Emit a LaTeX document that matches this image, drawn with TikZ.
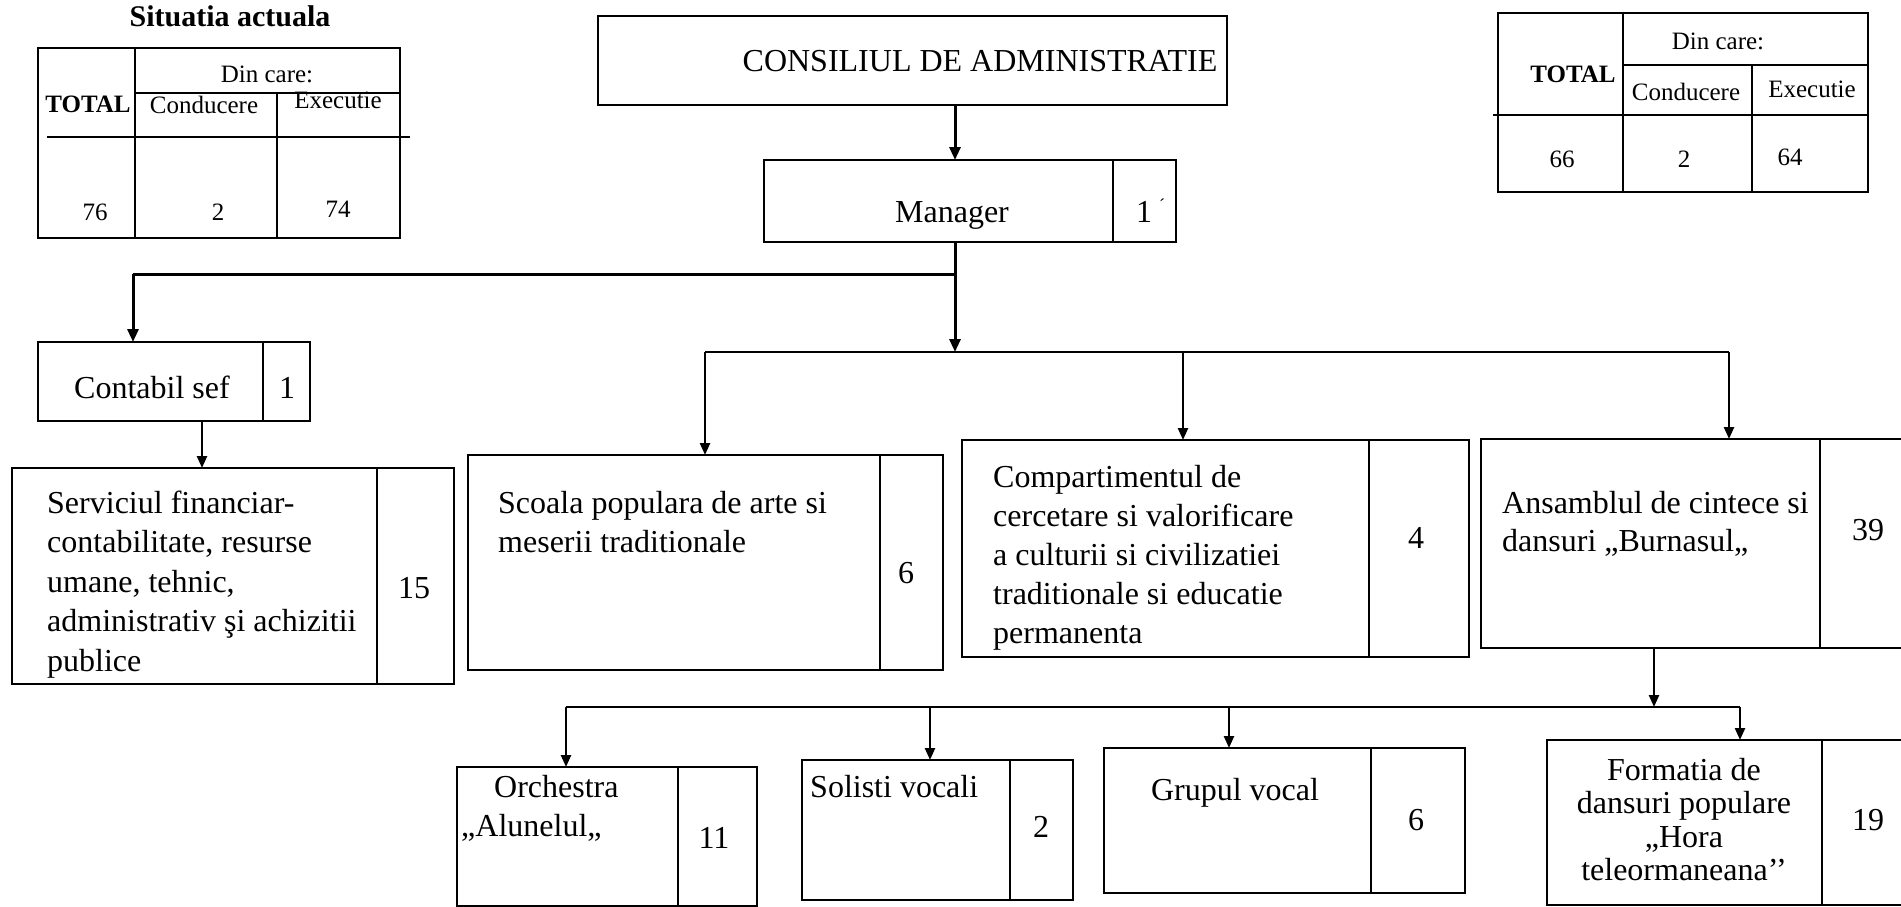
\documentclass[tikz,border=0pt]{standalone}
\usepackage{fontspec}
\setmainfont{Liberation Serif}
\usetikzlibrary{arrows.meta}
\begin{document}
\begin{tikzpicture}[x=1pt,y=-1pt,
  cell/.style={draw,line width=2.4pt,inner sep=0pt,outer sep=0pt,anchor=north west},
  tl/.style={line width=2.4pt},
  thk/.style={line width=3pt},
  arr/.style={line width=2.4pt,-{Triangle[length=12pt,width=10pt]}},
  arrb/.style={line width=3pt,-{Triangle[length=13pt,width=11pt]}},
  txt/.style={inner sep=0pt,anchor=base,font=\fontsize{32}{38}\selectfont},
  txtl/.style={txt,anchor=base west},
  tb/.style={inner sep=0pt,anchor=base,font=\fontsize{25}{30}\selectfont},
  tbb/.style={tb,font=\fontsize{25}{30}\selectfont\bfseries},
]
\useasboundingbox (0,0) rectangle (1901,907);
\clip (0,0) rectangle (1901,907);

% ---------- left table ----------
\node[inner sep=0pt,anchor=base,font=\fontsize{30}{36}\selectfont\bfseries] (title1) at (230,27) {Situatia actuala};
\draw[tl] (38,48) rectangle (400,238);
\draw[tl] (135,48) -- (135,238);
\draw[tl] (135,93) -- (400,93);
\draw[tl] (277,93) -- (277,238);
\draw[tl] (47,137) -- (410,137);
\node[tbb] (ta-total) at (88,112) {TOTAL};
\node[tb] (ta-din) at (267,83) {Din care:};
\node[tb] (ta-cond) at (204,113) {Conducere};
\node[tb] (ta-exec) at (338,108) {Executie};
\node[tb] (ta-76) at (95,220) {76};
\node[tb] (ta-2) at (218,220) {2};
\node[tb] (ta-74) at (338,217) {74};

% ---------- right table ----------
\draw[tl] (1498,13) rectangle (1868,192);
\draw[tl] (1623,13) -- (1623,192);
\draw[tl] (1623,65) -- (1868,65);
\draw[tl] (1752,65) -- (1752,192);
\draw[tl] (1493,115) -- (1868,115);
\node[tbb] (tb-total) at (1573,83) {TOTAL};
\node[tb] (tb-din) at (1718,50) {Din care:};
\node[tb] (tb-cond) at (1686,100) {Conducere};
\node[tb] (tb-exec) at (1812,97) {Executie};
\node[tb] (tb-66) at (1562,167) {66};
\node[tb] (tb-2) at (1684,167) {2};
\node[tb] (tb-64) at (1790,165) {64};

% ---------- boxes ----------
\node[cell,minimum width=629pt,minimum height=89pt] (cons) at (598,16) {};
\node[txt] (cons-t) at (980,72) {CONSILIUL DE ADMINISTRATIE};

\node[cell,minimum width=349pt,minimum height=82pt] (mgr) at (764,160) {};
\node[cell,minimum width=63pt,minimum height=82pt] (mgrn) at (1113,160) {};
\node[txt] (mgr-t) at (952,222) {Manager};
\node[txt] (mgr-n) at (1144,222) {1};
\node[inner sep=0pt,font=\fontsize{18}{18}\selectfont] (mgr-m) at (1162,205) {´};

\node[cell,minimum width=225pt,minimum height=79pt] (cont) at (38,342) {};
\node[cell,minimum width=47pt,minimum height=79pt] (contn) at (263,342) {};
\node[txt] (cont-t) at (152,398) {Contabil sef};
\node[txt] (cont-n) at (287,398) {1};

\node[cell,minimum width=365pt,minimum height=216pt] (serv) at (12,468) {};
\node[cell,minimum width=77pt,minimum height=216pt] (servn) at (377,468) {};
\foreach \t [count=\i from 0] in {{Serviciul financiar-},{contabilitate, resurse},{umane, tehnic,},{administrativ şi achizitii},{publice}}
  \node[txtl] (serv-l\i) at (47,513+39.5*\i) {\t};
\node[txt] (serv-n) at (414,598) {15};

\node[cell,minimum width=412pt,minimum height=215pt] (scoala) at (468,455) {};
\node[cell,minimum width=63pt,minimum height=215pt] (scoalan) at (880,455) {};
\foreach \t [count=\i from 0] in {{Scoala populara de arte si},{meserii traditionale}}
  \node[txtl] (scoala-l\i) at (498,513+39.5*\i) {\t};
\node[txt] (scoala-n) at (906,583) {6};

\node[cell,minimum width=407pt,minimum height=217pt] (comp) at (962,440) {};
\node[cell,minimum width=100pt,minimum height=217pt] (compn) at (1369,440) {};
\foreach \t [count=\i from 0] in {{Compartimentul de},{cercetare si valorificare},{a culturii si civilizatiei},{traditionale si educatie},{permanenta}}
  \node[txtl] (comp-l\i) at (993,487+39*\i) {\t};
\node[txt] (comp-n) at (1416,548) {4};

\node[cell,minimum width=339pt,minimum height=209pt] (ans) at (1481,439) {};
\node[cell,minimum width=100pt,minimum height=209pt] (ansn) at (1820,439) {};
\foreach \t [count=\i from 0] in {{Ansamblul de cintece si},{dansuri „Burnasul„}}
  \node[txtl] (ans-l\i) at (1502,513+38*\i) {\t};
\node[txt] (ans-n) at (1868,540) {39};

\node[cell,minimum width=221pt,minimum height=139pt] (orch) at (457,767) {};
\node[cell,minimum width=79pt,minimum height=139pt] (orchn) at (678,767) {};
\node[txtl] (orch-l0) at (494,797) {Orchestra};
\node[txtl] (orch-l1) at (461,836) {„Alunelul„};
\node[txt] (orch-n) at (714,848) {11};

\node[cell,minimum width=208pt,minimum height=140pt] (sol) at (802,760) {};
\node[cell,minimum width=63pt,minimum height=140pt] (soln) at (1010,760) {};
\node[txtl] (sol-t) at (810,797) {Solisti vocali};
\node[txt] (sol-n) at (1041,837) {2};

\node[cell,minimum width=267pt,minimum height=145pt] (grup) at (1104,748) {};
\node[cell,minimum width=94pt,minimum height=145pt] (grupn) at (1371,748) {};
\node[txt] (grup-t) at (1235,800) {Grupul vocal};
\node[txt] (grup-n) at (1416,830) {6};

\node[cell,minimum width=275pt,minimum height=165pt] (form) at (1547,740) {};
\node[cell,minimum width=100pt,minimum height=165pt] (formn) at (1822,740) {};
\foreach \t [count=\i from 0] in {{Formatia de},{dansuri populare},{„Hora},{teleormaneana’’}}
  \node[txt] (form-l\i) at (1684,780+33.5*\i) {\t};
\node[txt] (form-n) at (1868,830) {19};

% ---------- connectors ----------
\draw[arrb] (cons.south -| 955,0) -- (mgr.north -| 955,0);

\coordinate (j1) at (955,274);
\coordinate (j1l) at (133,274);
\draw[thk] (mgr.south -| j1) -- (j1) -- (j1l);
\draw[arrb] (j1l) -- (cont.north -| j1l);

\coordinate (j2) at (955,352);
\draw[arrb] (mgr.south -| j2) -- (j2);
\coordinate (h2l) at (705,352);
\coordinate (h2m) at (1183,352);
\coordinate (h2r) at (1729,352);
\draw[tl] (h2l) -- (h2r);
\draw[arr] (h2l) -- (scoala.north -| h2l);
\draw[arr] (h2m) -- (comp.north -| h2m);
\draw[arr] (h2r) -- (ans.north -| h2r);

\draw[arr] (cont.south -| 202,0) -- (serv.north -| 202,0);

\coordinate (j3) at (1654,707);
\draw[arr] (ans.south -| j3) -- (j3);
\coordinate (h3l) at (566,707);
\coordinate (h3a) at (930,707);
\coordinate (h3b) at (1229,707);
\coordinate (h3r) at (1740,707);
\draw[tl] (h3l) -- (h3r);
\draw[arr] (h3l) -- (orch.north -| h3l);
\draw[arr] (h3a) -- (sol.north -| h3a);
\draw[arr] (h3b) -- (grup.north -| h3b);
\draw[arr] (h3r) -- (form.north -| h3r);
\end{tikzpicture}
\end{document}
